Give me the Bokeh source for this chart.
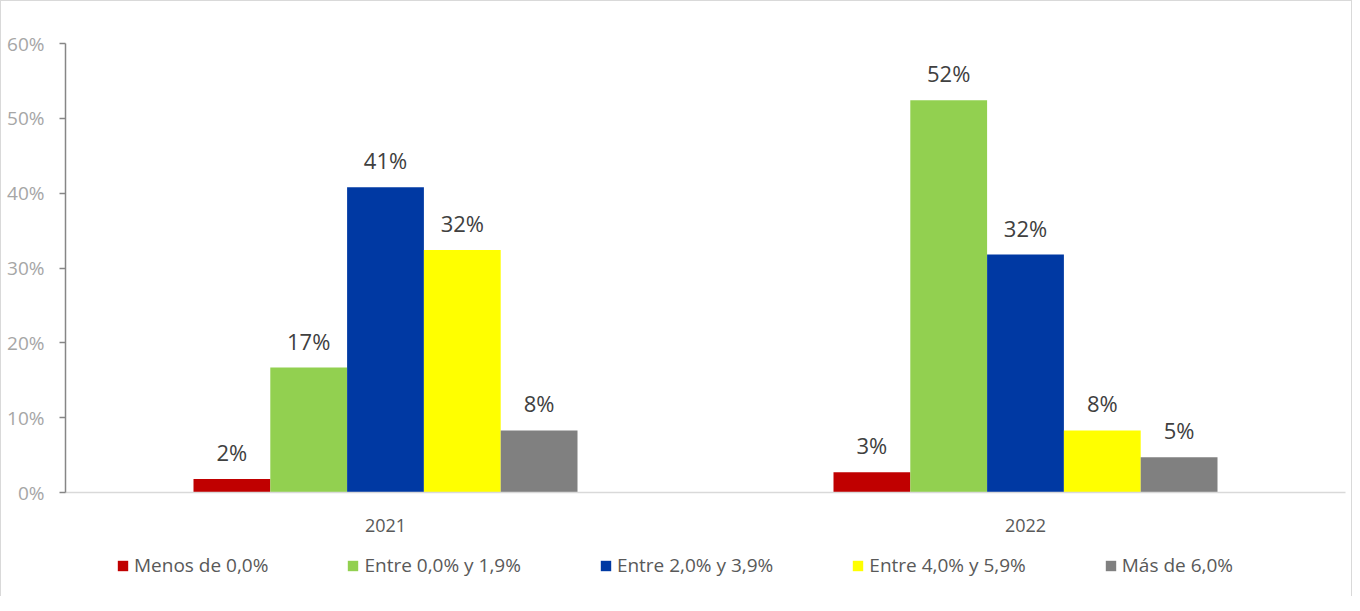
from bokeh.plotting import figure
from bokeh.layouts import column
from bokeh.models import (ColumnDataSource, Legend, LegendItem, NumeralTickFormatter,
                          FixedTicker, Range1d)
from bokeh.transform import dodge
from bokeh.core.properties import value
from bokeh.embed import file_html
from bokeh.resources import INLINE

years = ["2021", "2022"]
series_names = ["Menos de 0,0%", "Entre 0,0% y 1,9%", "Entre 2,0% y 3,9%",
                "Entre 4,0% y 5,9%", "Más de 6,0%"]
menos_0 = [0.018, 0.027]
entre_0_19 = [0.167, 0.524]
entre_2_39 = [0.408, 0.318]
entre_4_59 = [0.324, 0.083]
mas_6 = [0.083, 0.047]
series_values = [menos_0, entre_0_19, entre_2_39, entre_4_59, mas_6]
colors = ["#C00000", "#92D050", "#0039A3", "#FFFF00", "#808080"]
y_ticks = [0, 0.1, 0.2, 0.3, 0.4, 0.5, 0.6]

FONT = "Open Sans"

p = figure(x_range=years, y_range=(0, 0.6), width=1350, height=545,
           output_backend="svg", toolbar_location=None,
           min_border_left=64, min_border_right=6, min_border_top=42,
           min_border_bottom=54)

p.xgrid.visible = False
p.ygrid.visible = False
p.outline_line_color = None

offsets = [-0.24, -0.12, 0.0, 0.12, 0.24]
for name, vals, col, off in zip(series_names, series_values, colors, offsets):
    src = ColumnDataSource(dict(year=years, v=vals,
                                lbl=[f"{round(v * 100):.0f}%" for v in vals]))
    p.vbar(x=dodge("year", off, range=p.x_range), top="v", width=0.12,
           source=src, fill_color=col, line_color=None)
    p.text(x=dodge("year", off, range=p.x_range), y="v", text="lbl", source=src,
           text_align="center", text_baseline="bottom", y_offset=-12,
           text_font=value(FONT), text_font_size="22px", text_color="#404040")

# y axis
p.yaxis.ticker = FixedTicker(ticks=y_ticks)
p.yaxis.formatter = NumeralTickFormatter(format="0%")
p.yaxis.axis_line_color = "#868686"
p.yaxis.axis_line_width = 1.5
p.yaxis.major_tick_line_color = "#868686"
p.yaxis.major_tick_line_width = 1.5
p.yaxis.major_tick_in = 0
p.yaxis.major_tick_out = 6
p.yaxis.minor_tick_line_color = None
p.yaxis.major_label_text_font = FONT
p.yaxis.major_label_text_font_size = "19px"
p.yaxis.major_label_text_color = "#A6A6A6"
p.yaxis.major_label_standoff = 15

# x axis
p.xaxis.axis_line_color = "#D9D9D9"
p.xaxis.axis_line_width = 1.5
p.xaxis.major_tick_line_color = None
p.xaxis.minor_tick_line_color = None
p.xaxis.major_label_text_font = FONT
p.xaxis.major_label_text_font_size = "18px"
p.xaxis.major_label_text_color = "#595959"
p.xaxis.major_label_standoff = 20

# legend strip (its frame is aligned with the main plot's frame)
p2 = figure(width=1350, height=50, output_backend="svg", toolbar_location=None,
            x_range=Range1d(0, 1), y_range=Range1d(0, 1),
            min_border_left=64, min_border_right=6, min_border_top=0,
            min_border_bottom=0)
p2.axis.visible = False
p2.grid.visible = False
p2.outline_line_color = None
items = []
for name, col in zip(series_names, colors):
    proxy = ColumnDataSource(dict(x=[0], top=[0]))
    r = p2.vbar(x="x", top="top", width=0.0, source=proxy,
                fill_color=col, line_color=None)
    items.append(LegendItem(label=name, renderers=[r]))

legend = Legend(items=items, orientation="horizontal", location=(51, 18),
                spacing=78, padding=0, margin=0, glyph_width=13, glyph_height=13,
                label_standoff=5, label_text_font=FONT, label_text_font_size="19px",
                label_text_color="#595959", border_line_color=None,
                background_fill_alpha=0, label_height=22)
p2.add_layout(legend, "center")

layout = column(p, p2, spacing=0)
layout.styles = {"border-top": "1px solid #d9d9d9", "border-left": "1px solid #d9d9d9",
                 "border-right": "1px solid #d9d9d9"}

open("out.html", "w").write(file_html(layout, INLINE))
